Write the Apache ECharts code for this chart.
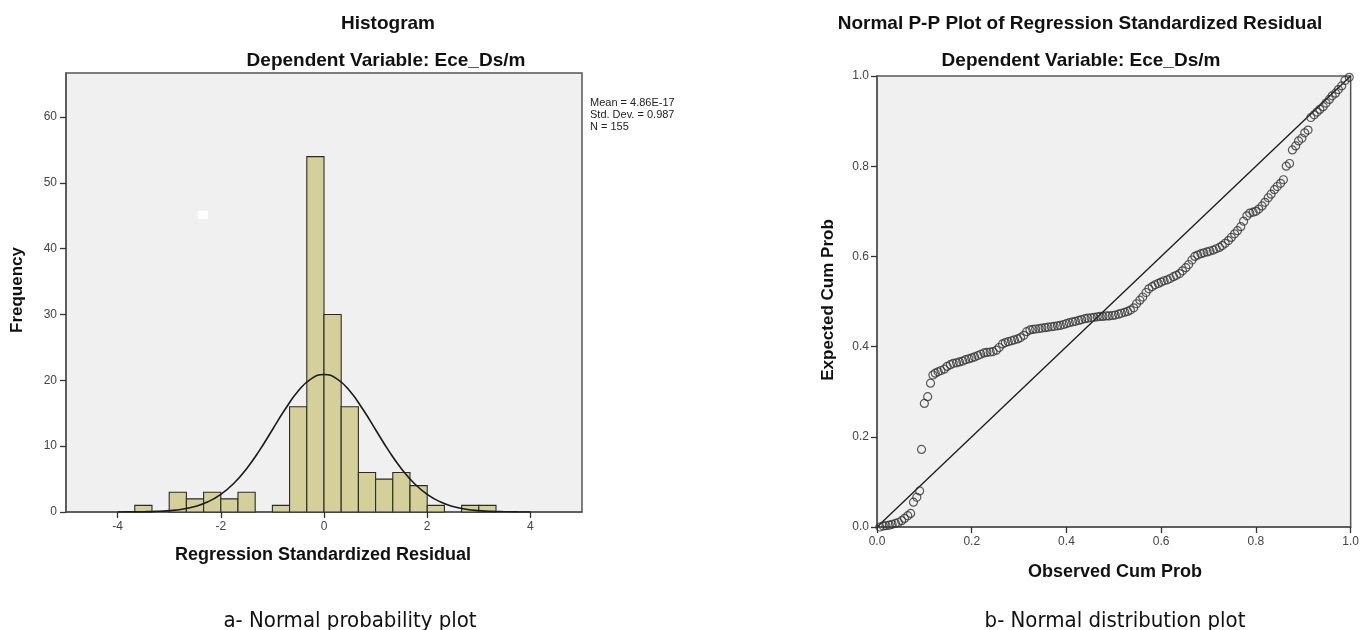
<!DOCTYPE html>
<html><head><meta charset="utf-8">
<script src="https://cdn.jsdelivr.net/npm/echarts@6/dist/echarts.min.js"></script>
<style>html,body{margin:0;padding:0;background:#fff}#c{width:1362px;height:630px}</style>
</head><body><div id="c"></div><script>
// ---- Histogram data (bins of width 1/3) ----
const binLow = [-3.667,-3.333,-3,-2.667,-2.333,-2,-1.667,-1.333,-1,-0.667,-0.333,0,0.333,0.667,1,1.333,1.667,2,2.333,2.667,3];
const binCounts = [1,0,3,2,3,2,3,0,1,16,54,30,16,6,5,6,4,1,0,1,1];
const binWidth = 0.3333;
const histXTicks = [-4,-2,0,2,4];
const histYTicks = [0,10,20,30,40,50,60];
// ---- fitted normal curve ----
const curveX = [-4,-3.75,-3.5,-3.25,-3,-2.75,-2.5,-2.25,-2,-1.75,-1.5,-1.25,-1,-0.75,-0.5,-0.25,0,0.25,0.5,0.75,1,1.25,1.5,1.75,2,2.25,2.5,2.75,3,3.25,3.5,3.75,4];
const curveY = [0.005,0.015,0.04,0.09,0.21,0.43,0.84,1.55,2.68,4.33,6.58,9.36,12.5,15.64,18.37,20.22,20.88,20.22,18.37,15.64,12.5,9.36,6.58,4.33,2.68,1.55,0.84,0.43,0.21,0.09,0.04,0.015,0.005];
const statsText = ['Mean = 4.86E-17','Std. Dev. = 0.987','N = 155'];
// ---- P-P plot data ----
const ppObserved = [0.006,0.013,0.019,0.026,0.032,0.039,0.045,0.052,0.058,0.065,0.071,0.077,0.084,0.090,
0.094,
0.100,0.107,0.113,0.118,0.123,0.129,0.135,0.142,0.148,0.155,0.161,0.168,0.174,0.181,0.187,0.194,
0.200,0.206,0.213,0.219,0.226,0.232,0.239,0.245,0.252,0.258,0.265,0.271,0.277,0.284,0.290,0.297,0.303,0.310,0.316,0.323,
0.329,0.335,0.342,0.348,0.355,0.361,0.368,0.374,0.381,0.387,0.394,0.400,0.406,0.413,0.419,0.426,0.432,0.439,0.445,0.452,
0.458,0.465,0.471,0.477,0.484,0.490,0.497,0.503,0.510,0.516,0.523,0.529,0.535,0.542,
0.548,0.555,0.561,0.568,0.574,0.581,0.587,0.594,0.600,0.606,0.613,0.619,0.626,0.632,0.639,0.645,0.652,0.658,0.665,0.671,
0.677,0.684,0.690,0.697,0.703,0.710,0.716,0.723,0.729,0.735,
0.742,0.748,0.755,0.761,0.768,0.774,0.781,0.787,0.794,0.800,0.806,0.813,0.819,0.826,0.832,0.839,
0.845,0.852,0.858,0.864,0.871,0.877,
0.884,0.890,0.897,0.903,0.910,
0.916,0.923,0.929,0.935,0.942,0.948,
0.955,0.961,0.968,0.974,
0.981,0.988,0.997];
const ppExpected = [0.000,0.002,0.003,0.004,0.006,0.008,0.010,0.014,0.019,0.025,0.030,0.055,0.066,0.080,
0.172,
0.274,0.289,0.319,0.337,0.341,0.344,0.347,0.350,0.356,0.360,0.363,0.364,0.366,0.368,0.371,0.373,
0.375,0.377,0.380,0.383,0.386,0.387,0.388,0.389,0.392,0.398,0.406,0.409,0.411,0.413,0.415,0.417,0.420,0.425,0.433,0.437,
0.438,0.439,0.440,0.441,0.442,0.443,0.444,0.445,0.446,0.447,0.449,0.451,0.453,0.455,0.456,0.458,0.460,0.462,0.463,0.464,
0.465,0.466,0.467,0.467,0.468,0.468,0.469,0.470,0.472,0.474,0.476,0.478,0.481,0.486,
0.495,0.503,0.510,0.520,0.528,0.533,0.537,0.540,0.543,0.546,0.548,0.551,0.555,0.558,0.562,0.568,0.575,0.582,0.592,0.600,
0.603,0.606,0.608,0.610,0.612,0.614,0.617,0.620,0.624,0.629,
0.635,0.642,0.650,0.657,0.666,0.678,0.690,0.696,0.698,0.700,0.705,0.712,0.720,0.730,0.738,0.748,
0.755,0.762,0.770,0.800,0.806,0.836,
0.845,0.856,0.862,0.874,0.880,
0.908,0.914,0.920,0.926,0.932,0.940,
0.948,0.956,0.962,0.970,
0.978,0.990,0.997];

const FONT = '"Liberation Sans", Arial, sans-serif';
const histData = [];
binLow.forEach((lo,i)=>{ if(binCounts[i]>0) histData.push([lo, lo+binWidth, binCounts[i]]); });
const curveData = curveX.map((x,i)=>[x,curveY[i]]);
const ppData = ppObserved.map((x,i)=>[x,ppExpected[i]]);

const axisLineStyle = {show:true, onZero:false, lineStyle:{color:'#555', width:1.5}};
const tickStyle = {show:true, length:6, inside:false, lineStyle:{color:'#333', width:1.3}};
const labelStyle = {color:'#444', fontSize:12, fontFamily:FONT};

const chart = echarts.init(document.getElementById('c'), null, {renderer:'canvas'});
chart.setOption({
  animation:false,
  backgroundColor:'#ffffff',
  grid:[
    {left:66, top:73, width:516, height:439, show:true, backgroundColor:'#f0f0f0', borderColor:'#555', borderWidth:1.5},
    {left:877, top:76, width:478, height:451, show:true, backgroundColor:'#f0f0f0', borderColor:'#555', borderWidth:1.5}
  ],
  xAxis:[
    {gridIndex:0, type:'value', min:-5, max:5, axisLine:axisLineStyle,
     axisTick:Object.assign({customValues:histXTicks}, tickStyle),
     axisLabel:Object.assign({customValues:histXTicks, margin:9}, labelStyle), splitLine:{show:false}},
    {gridIndex:1, type:'value', min:0, max:1, interval:0.2, axisLine:axisLineStyle,
     axisTick:tickStyle,
     axisLabel:Object.assign({margin:9, formatter:v=>v.toFixed(1)}, labelStyle), splitLine:{show:false}}
  ],
  yAxis:[
    {gridIndex:0, type:'value', min:0, max:66.7, axisLine:axisLineStyle,
     axisTick:Object.assign({customValues:histYTicks}, tickStyle),
     axisLabel:Object.assign({customValues:histYTicks, margin:9}, labelStyle), splitLine:{show:false}},
    {gridIndex:1, type:'value', min:0, max:1, interval:0.2, axisLine:axisLineStyle,
     axisTick:tickStyle,
     axisLabel:Object.assign({margin:8, formatter:v=>v.toFixed(1)}, labelStyle), splitLine:{show:false}}
  ],
  series:[
    {type:'custom', xAxisIndex:0, yAxisIndex:0, data:histData, encode:{x:[0,1], y:2},
     renderItem:function(params, api){
       const p0 = api.coord([api.value(0), 0]);
       const p1 = api.coord([api.value(1), api.value(2)]);
       return {type:'rect', shape:{x:p0[0], y:p1[1], width:p1[0]-p0[0], height:p0[1]-p1[1]},
               style:{fill:'#d5d09a', stroke:'#2b2b2b', lineWidth:1.1}};
     }},
    {type:'line', xAxisIndex:0, yAxisIndex:0, data:curveData, smooth:true, symbol:'none',
     lineStyle:{color:'#1a1a1a', width:1.6}, z:5},
    {type:'line', xAxisIndex:1, yAxisIndex:1, data:[[0,0],[1,1]], symbol:'none',
     lineStyle:{color:'#1a1a1a', width:1.3}, z:3},
    {type:'scatter', xAxisIndex:1, yAxisIndex:1, data:ppData, symbol:'circle', symbolSize:8, clip:false,
     itemStyle:{color:'rgba(0,0,0,0)', borderColor:'#333', borderWidth:1.2}, z:4}
  ],
  graphic:[
    {type:'rect', shape:{x:198, y:211, width:10, height:8}, style:{fill:'#ffffff'}, z:10},
    {type:'text', x:388, y:24, style:{text:'Histogram', font:'bold 19px '+FONT, fill:'#111', align:'center', verticalAlign:'middle'}},
    {type:'text', x:386, y:61, style:{text:'Dependent Variable: Ece_Ds/m', font:'bold 19px '+FONT, fill:'#111', align:'center', verticalAlign:'middle'}},
    {type:'text', x:1080, y:24, style:{text:'Normal P-P Plot of Regression Standardized Residual', font:'bold 19px '+FONT, fill:'#111', align:'center', verticalAlign:'middle'}},
    {type:'text', x:1081, y:61, style:{text:'Dependent Variable: Ece_Ds/m', font:'bold 19px '+FONT, fill:'#111', align:'center', verticalAlign:'middle'}},
    {type:'text', x:17, y:290, rotation:Math.PI/2, style:{text:'Frequency', font:'bold 17px '+FONT, fill:'#111', align:'center', verticalAlign:'middle'}},
    {type:'text', x:323, y:555, style:{text:'Regression Standardized Residual', font:'bold 18px '+FONT, fill:'#111', align:'center', verticalAlign:'middle'}},
    {type:'text', x:828, y:300, rotation:Math.PI/2, style:{text:'Expected Cum Prob', font:'bold 17px '+FONT, fill:'#111', align:'center', verticalAlign:'middle'}},
    {type:'text', x:1115, y:572, style:{text:'Observed Cum Prob', font:'bold 18px '+FONT, fill:'#111', align:'center', verticalAlign:'middle'}},
    {type:'text', x:590, y:103, style:{text:statsText[0], font:'11px '+FONT, fill:'#222', align:'left', verticalAlign:'middle'}},
    {type:'text', x:590, y:115, style:{text:statsText[1], font:'11px '+FONT, fill:'#222', align:'left', verticalAlign:'middle'}},
    {type:'text', x:590, y:127, style:{text:statsText[2], font:'11px '+FONT, fill:'#222', align:'left', verticalAlign:'middle'}},
    {type:'text', x:350, y:621, style:{text:'a- Normal probability plot', font:'22px "DejaVu Sans Condensed", "Liberation Sans Narrow", sans-serif', fill:'#111', align:'center', verticalAlign:'middle'}},
    {type:'text', x:1115, y:621, style:{text:'b- Normal distribution plot', font:'22px "DejaVu Sans Condensed", "Liberation Sans Narrow", sans-serif', fill:'#111', align:'center', verticalAlign:'middle'}}
  ]
});
</script></body></html>
